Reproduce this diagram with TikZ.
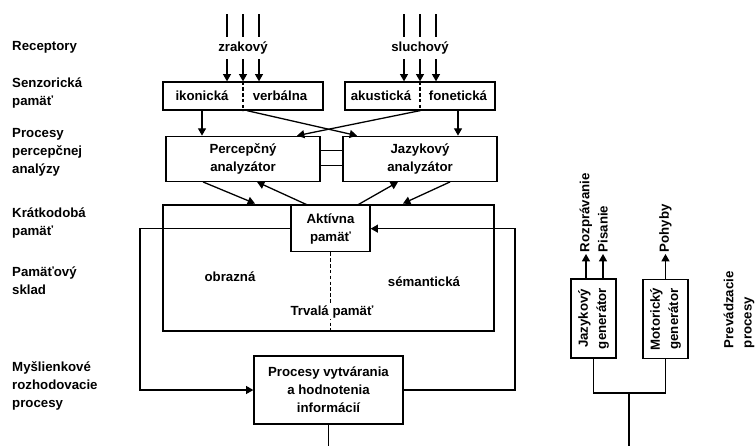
\documentclass[tikz,border=0pt]{standalone}
\usepackage{fontspec}
\setmainfont{Liberation Sans}
\usetikzlibrary{arrows.meta, positioning, calc}

\begin{document}
\begin{tikzpicture}[
    x=0.03cm, y=-0.03cm,
    font=\fontsize{11.3}{15.5}\selectfont\bfseries,
    node distance=0.75cm and 0.66cm,
    box/.style={rectangle, draw, line width=1.1pt, inner sep=2pt, align=center},
    ltmbox/.style={rectangle, draw, line width=2.5pt, minimum width=9.93cm, minimum height=3.78cm},
    lvl/.style={align=left, anchor=west, inner sep=0pt},
    gen/.style={box, rotate=90, minimum width=2.37cm, minimum height=1.35cm},
    outlbl/.style={rotate=90, anchor=west, inner sep=1.5pt},
    src/.style={inner ysep=4pt},
    ln/.style={line width=1.1pt},
    arr/.style={-{Triangle[length=2.2mm, width=2.4mm]}, line width=1.1pt}
]
\useasboundingbox (0,0) rectangle (755,446);

\node[lvl] (recep) at (12,47) {Receptory};
\node[lvl] (senzlvl) at (12,93) {Senzorická\\pamäť};
\node[lvl] (perclvl) at (12,152) {Procesy\\percepčnej\\analýzy};
\node[lvl] (stmlvl) at (12,223) {Krátkodobá\\pamäť};
\node[lvl] (skladlvl) at (12,281) {Pamäťový\\sklad};
\node[lvl] (myslvl) at (12,386) {Myšlienkové\\rozhodovacie\\procesy};

\node[box, minimum width=4.8cm, minimum height=0.84cm] (senzv) at (243,96) {};
\node[box, minimum width=4.5cm, minimum height=0.84cm] (akust) at (420,96) {};
\node (ikon) at (202,96) {ikonická};
\node (verb) at (280,96) {verbálna};
\node (akus) at (381,96) {akustická};
\node (fonet) at (458,96) {fonetická};
\draw[ln, dash pattern=on 3pt off 2pt] (senzv.north) -- (senzv.south);
\draw[ln, dash pattern=on 3pt off 2pt] (akust.north) -- (akust.south);

\node[src] (zrak) at (243,48) {zrakový};
\node[src] (sluch) at (420,48) {sluchový};
\foreach \dx in {-16,0,16} {
  \draw[ln] ($(zrak.north)+(\dx,0)$) -- ++(0,-23);
  \draw[arr] ($(zrak.south)+(\dx,0)$) -- ($(senzv.north)+(\dx,0)$);
  \draw[ln] ($(sluch.north)+(\dx,0)$) -- ++(0,-23);
  \draw[arr] ($(sluch.south)+(\dx,0)$) -- ($(akust.north)+(\dx,0)$);
}

\node[box, minimum width=4.62cm, minimum height=1.35cm, below=0.75cm of senzv] (percep) {Percepčný\\analyzátor};
\node[box, minimum width=4.62cm, minimum height=1.35cm, below=0.75cm of akust] (jazan) {Jazykový\\analyzátor};
\draw[ln] ([yshift=0.24cm]percep.east) -- ([yshift=0.24cm]percep.east -| jazan.west);
\draw[ln] ([yshift=-0.2cm]percep.east) -- ([yshift=-0.2cm]percep.east -| jazan.west);

\draw[arr] (senzv.south -| ikon) -- (percep.north -| ikon);
\draw[arr] (akust.south -| fonet) -- (jazan.north -| fonet);
\draw[arr] ($(senzv.south)+(4,0)$) -- ($(jazan.north)+(-63,0)$);
\draw[arr] (akust.south) -- ($(percep.north)+(54,0)$);

\node[ltmbox] (ltm) at (328.5,268) {};
\node[box, anchor=north, minimum width=2.37cm, minimum height=1.38cm] (aktiv) at (330.5,205) {Aktívna\\pamäť};
\node (obraz) at (230,277) {obrazná};
\node (seman) at (424,282) {sémantická};
\draw[ln, dash pattern=on 3pt off 2pt] (aktiv.south) -- (aktiv.south |- ltm.south);
\node[fill=white, inner sep=1pt] (trval) at (332,312) {Trvalá pamäť};

\draw[arr] ($(percep.south)+(-40,0)$) -- ($(ltm.north)+(-73.5,0)$);
\draw[arr] ($(aktiv.north)+(-23,0)$) -- ($(percep.south)+(14,0)$);
\draw[arr] ($(aktiv.north)+(27,0)$) -- ($(jazan.south)+(-22,0)$);
\draw[arr] ($(jazan.south)+(30,0)$) -- ($(ltm.north)+(74.5,0)$);

\node[box, minimum width=4.47cm, minimum height=2.04cm] (procesy) at (328.5,390) {Procesy vytvárania\\a hodnotenia\\informácií};

\coordinate (fbl) at (140,0);
\coordinate (fbr) at (515,0);
\coordinate (bot) at (0,446);
\draw[arr] (aktiv.west) -- (aktiv.west -| fbl) -- (procesy.west -| fbl) -- (procesy.west);
\draw[arr] (procesy.east) -- (procesy.east -| fbr) -- (aktiv.east -| fbr) -- (aktiv.east);
\draw[ln] (procesy.south) -- (procesy.south |- bot);

\node[gen] (jgen) at (593.5,318.5) {Jazykový\\generátor};
\node[gen] (mgen) at (665.5,319) {Motorický\\generátor};
\coordinate (fork) at (629,393);
\draw[ln] (jgen.west) -- (jgen.west |- fork) -- (mgen.west |- fork) -- (mgen.west);
\draw[ln] (fork) -- (fork |- bot);

\node[outlbl] (rozpr) at (586,254) {Rozprávanie};
\node[outlbl] (pisan) at (603,254) {Pisanie};
\node[outlbl] (pohyb) at (665.5,254) {Pohyby};
\draw[arr] (jgen.east -| rozpr.west) -- (rozpr.west);
\draw[arr] (jgen.east -| pisan.west) -- (pisan.west);
\draw[arr] (mgen.east) -- (pohyb.west);

\node[outlbl, align=left] (prev) at (739,350) {Prevádzacie\\procesy};
\end{tikzpicture}
\end{document}
